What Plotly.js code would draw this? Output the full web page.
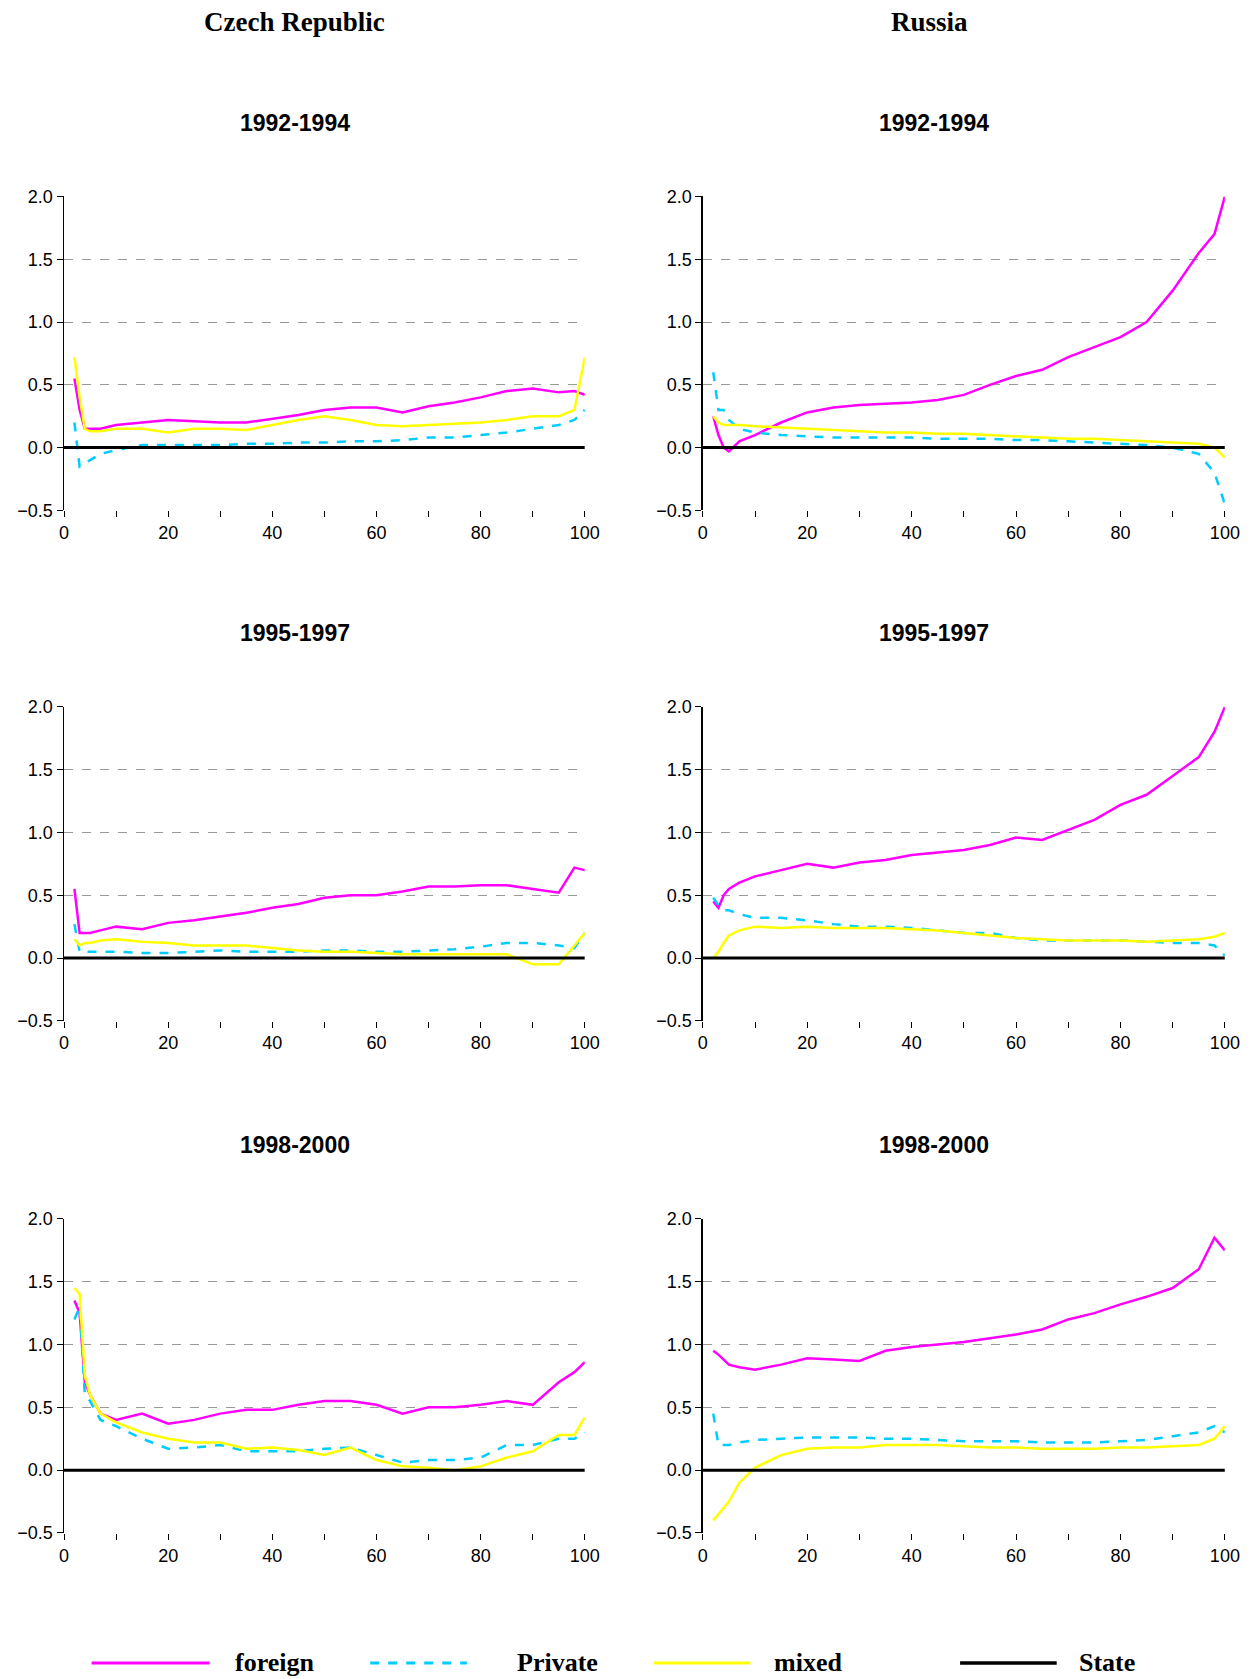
<!DOCTYPE html>
<html>
<head>
<meta charset="utf-8">
<script src="https://cdn.plot.ly/plotly-3.0.1.min.js"></script>
<style>body{margin:0;background:#fff}</style>
</head>
<body>
<div id="chart" style="width:1255px;height:1679px"></div>
<script>
// percentile points
var pct = [2,3,4,5,7,10,15,20,25,30,35,40,45,50,55,60,65,70,75,80,85,90,95,98,100];

var czForeign92 = [0.55,0.3,0.15,0.15,0.15,0.18,0.2,0.22,0.21,0.2,0.2,0.23,0.26,0.3,0.32,0.32,0.28,0.33,0.36,0.4,0.45,0.47,0.44,0.45,0.42];
var czPrivate92 = [0.2,-0.15,-0.12,-0.1,-0.05,-0.02,0.02,0.02,0.02,0.02,0.03,0.03,0.04,0.04,0.05,0.05,0.06,0.08,0.08,0.1,0.12,0.15,0.18,0.22,0.3];
var czMixed92   = [0.72,0.4,0.15,0.13,0.13,0.15,0.15,0.12,0.15,0.15,0.14,0.18,0.22,0.25,0.22,0.18,0.17,0.18,0.19,0.2,0.22,0.25,0.25,0.3,0.72];

var ruForeign92 = [0.25,0.1,0.0,-0.03,0.05,0.1,0.2,0.28,0.32,0.34,0.35,0.36,0.38,0.42,0.5,0.57,0.62,0.72,0.8,0.88,1.0,1.25,1.55,1.7,2.0];
var ruPrivate92 = [0.6,0.3,0.3,0.22,0.15,0.12,0.1,0.09,0.08,0.08,0.08,0.08,0.07,0.07,0.07,0.06,0.06,0.05,0.04,0.03,0.02,0.0,-0.05,-0.2,-0.45];
var ruMixed92   = [0.25,0.2,0.18,0.18,0.18,0.17,0.16,0.15,0.14,0.13,0.12,0.12,0.11,0.11,0.1,0.09,0.08,0.07,0.07,0.06,0.05,0.04,0.03,0.0,-0.08];

var czForeign95 = [0.55,0.2,0.2,0.2,0.22,0.25,0.23,0.28,0.3,0.33,0.36,0.4,0.43,0.48,0.5,0.5,0.53,0.57,0.57,0.58,0.58,0.55,0.52,0.72,0.7];
var czPrivate95 = [0.27,0.05,0.05,0.05,0.05,0.05,0.04,0.04,0.05,0.06,0.05,0.05,0.05,0.06,0.06,0.05,0.05,0.06,0.07,0.09,0.12,0.12,0.1,0.08,0.2];
var czMixed95   = [0.15,0.1,0.12,0.12,0.14,0.15,0.13,0.12,0.1,0.1,0.1,0.08,0.06,0.05,0.05,0.04,0.03,0.03,0.03,0.03,0.03,-0.05,-0.05,0.1,0.2];

var ruForeign95 = [0.45,0.4,0.5,0.55,0.6,0.65,0.7,0.75,0.72,0.76,0.78,0.82,0.84,0.86,0.9,0.96,0.94,1.02,1.1,1.22,1.3,1.45,1.6,1.8,2.0];
var ruPrivate95 = [0.48,0.42,0.38,0.38,0.35,0.32,0.32,0.3,0.27,0.25,0.25,0.24,0.22,0.2,0.2,0.16,0.14,0.14,0.14,0.14,0.13,0.12,0.12,0.1,0.02];
var ruMixed95   = [0.0,0.05,0.12,0.18,0.22,0.25,0.24,0.25,0.24,0.24,0.24,0.23,0.22,0.2,0.18,0.16,0.15,0.14,0.14,0.14,0.13,0.14,0.15,0.17,0.2];

var czForeign98 = [1.35,1.25,0.7,0.6,0.45,0.4,0.45,0.37,0.4,0.45,0.48,0.48,0.52,0.55,0.55,0.52,0.45,0.5,0.5,0.52,0.55,0.52,0.7,0.78,0.86];
var czPrivate98 = [1.2,1.3,0.6,0.55,0.4,0.35,0.25,0.17,0.18,0.2,0.15,0.15,0.15,0.17,0.18,0.12,0.06,0.08,0.08,0.1,0.2,0.2,0.25,0.25,0.3];
var czMixed98   = [1.45,1.4,0.75,0.6,0.45,0.38,0.3,0.25,0.22,0.22,0.17,0.18,0.16,0.12,0.18,0.08,0.03,0.02,0.0,0.03,0.1,0.15,0.28,0.28,0.42];

var ruForeign98 = [0.95,0.92,0.88,0.84,0.82,0.8,0.84,0.89,0.88,0.87,0.95,0.98,1.0,1.02,1.05,1.08,1.12,1.2,1.25,1.32,1.38,1.45,1.6,1.85,1.75];
var ruPrivate98 = [0.45,0.2,0.2,0.2,0.22,0.24,0.25,0.26,0.26,0.26,0.25,0.25,0.24,0.23,0.23,0.23,0.22,0.22,0.22,0.23,0.24,0.27,0.3,0.35,0.3];
var ruMixed98   = [-0.4,-0.35,-0.3,-0.25,-0.1,0.02,0.12,0.17,0.18,0.18,0.2,0.2,0.2,0.19,0.18,0.18,0.17,0.17,0.17,0.18,0.18,0.19,0.2,0.25,0.35];

var stateX = [0,100];
var stateY = [0,0];

var seriesNames = ["foreign","Private","mixed","State"];
var seriesColors = ["#ff00ff","#00ccff","#ffff00","#000000"];
var seriesDash = ["solid","dash","solid","solid"];

var panels = [
  {f:czForeign92,p:czPrivate92,m:czMixed92,t:"1992-1994"},
  {f:ruForeign92,p:ruPrivate92,m:ruMixed92,t:"1992-1994"},
  {f:czForeign95,p:czPrivate95,m:czMixed95,t:"1995-1997"},
  {f:ruForeign95,p:ruPrivate95,m:ruMixed95,t:"1995-1997"},
  {f:czForeign98,p:czPrivate98,m:czMixed98,t:"1998-2000"},
  {f:ruForeign98,p:ruPrivate98,m:ruMixed98,t:"1998-2000"}
];

var xDom = [[0.051,0.466],[0.56,0.976]];
var yDom = [[0.696,0.883],[0.392,0.579],[0.087,0.274]];
var titleX = [0.235,0.744];
var titleY = [0.927,0.623,0.318];

var traces = [];
var layout = {
  width:1255, height:1679, margin:{l:0,r:0,t:0,b:0},
  paper_bgcolor:"#fff", plot_bgcolor:"#fff", showlegend:false,
  shapes:[],
  annotations:[
    {text:"<b>Czech Republic</b>", x:0.235, y:0.987, xref:"paper", yref:"paper", xanchor:"center", yanchor:"middle", showarrow:false, font:{family:"Liberation Serif", size:27, color:"#000"}},
    {text:"<b>Russia</b>", x:0.741, y:0.987, xref:"paper", yref:"paper", xanchor:"center", yanchor:"middle", showarrow:false, font:{family:"Liberation Serif", size:27, color:"#000"}}
  ]
};

panels.forEach(function(pn, i){
  var n = i+1, col = i%2, row = Math.floor(i/2);
  var xa = "x"+(n>1?n:""), ya = "y"+(n>1?n:"");
  var ys = [pn.f, pn.p, pn.m];
  for (var k=0;k<3;k++){
    traces.push({x:pct, y:ys[k], xaxis:xa, yaxis:ya, mode:"lines", name:seriesNames[k],
      line:{color:seriesColors[k], width:2.5, dash:seriesDash[k]}});
  }
  traces.push({x:stateX, y:stateY, xaxis:xa, yaxis:ya, mode:"lines", name:"State", line:{color:"#000", width:3}});
  layout["xaxis"+(n>1?n:"")] = {domain:xDom[col], anchor:ya, range:[0,100], tickvals:[0,20,40,60,80,100],
    ticks:"outside", ticklen:6, tickcolor:"#000", showgrid:false, zeroline:false, showline:false,
    minor:{dtick:10, ticks:"outside", ticklen:6, tickcolor:"#000"},
    tickfont:{family:"Liberation Sans", size:18, color:"#000"}};
  layout["yaxis"+(n>1?n:"")] = {domain:yDom[row], anchor:xa, range:[-0.5,2.0], dtick:0.5, tickformat:".1f",
    ticks:"outside", ticklen:6, tickcolor:"#000", showline:true, linecolor:"#000", linewidth:1.5,
    showgrid:true, gridcolor:"#999", griddash:"dash", gridwidth:1, zeroline:false,
    tickfont:{family:"Liberation Sans", size:18, color:"#000"}};
  layout.annotations.push({text:"<b>"+pn.t+"</b>", x:titleX[col], y:titleY[row],
    xref:"paper", yref:"paper", xanchor:"center", yanchor:"middle", showarrow:false,
    font:{family:"Liberation Sans", size:23, color:"#000"}});
});

// legend drawn as line samples and labels along the bottom
var legLine = [[0.073,0.167],[0.295,0.372],[0.521,0.598],[0.765,0.842]];
var legText = [0.186,0.41,0.615,0.858];
for (var k=0;k<4;k++){
  layout.shapes.push({type:"line", xref:"paper", yref:"paper", x0:legLine[k][0], x1:legLine[k][1], y0:0.0096, y1:0.0096,
    line:{color:seriesColors[k], width:k===3?3.5:3, dash:seriesDash[k]}});
  layout.annotations.push({text:"<b>"+seriesNames[k]+"</b>", x:legText[k], y:0.0096, xref:"paper", yref:"paper",
    xanchor:"left", yanchor:"middle", showarrow:false, font:{family:"Liberation Serif", size:26, color:"#000"}});
}

Plotly.newPlot("chart", traces, layout, {staticPlot:true});
</script>
</body>
</html>
